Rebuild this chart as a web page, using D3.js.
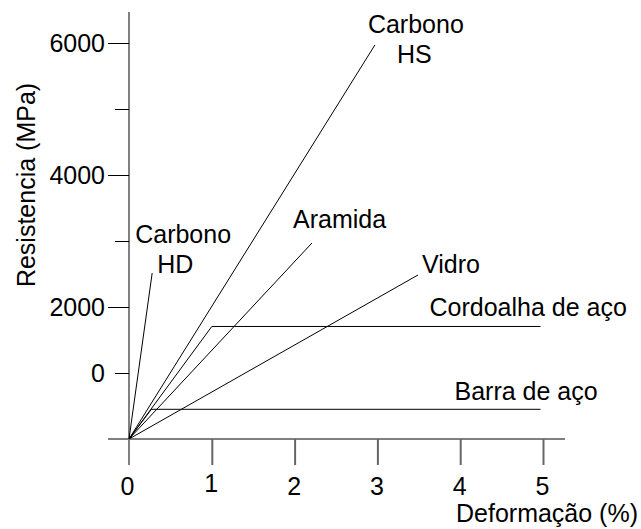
<!DOCTYPE html>
<html>
<head>
<meta charset="utf-8">
<script src="https://cdn.jsdelivr.net/npm/d3@7/dist/d3.min.js"></script>
<style>
  html, body { margin: 0; padding: 0; background: #fff; }
  svg text { font-family: "Liberation Sans", Arial, sans-serif; fill: #000; }
</style>
</head>
<body>
<svg id="chart" width="641" height="529"></svg>
<script>
// ---- data ----
const seriesNames = ["Carbono HD", "Carbono HS", "Aramida", "Vidro", "Cordoalha de aço", "Barra de aço"];
const carbonoHD = [[0, 0], [0.28, 2515]];
const carbonoHS = [[0, 0], [2.97, 5970]];
const aramida   = [[0, 0], [2.21, 2970]];
const vidro     = [[0, 0], [3.49, 2485]];
const cordoalha = [[0, 0], [1.0, 1705], [4.97, 1705]];
const barra     = [[0, 0], [0.27, 450], [4.97, 450]];
const xTickValues = [0, 1, 2, 3, 4, 5];
const xTickLabels = ["0", "1", "2", "3", "4", "5"];
const yTickValues = [1000, 2000, 3000, 4000, 5000, 6000];
const yTickLabels = ["0", "2000", "", "4000", "", "6000"];
const xTitle = "Deformação (%)";
const yTitle = "Resistencia (MPa)";

// ---- layout ----
const svg = d3.select("#chart");
const x = d3.scaleLinear().domain([0, 5]).range([129, 543]);
const y = d3.scaleLinear().domain([0, 6000]).range([439, 43]);
const FONT = 25;
const FF = "Liberation Sans, Arial, sans-serif";

// axes lines
svg.append("line").attr("x1", x(0)).attr("x2", x(0)).attr("y1", 12).attr("y2", 465)
  .attr("stroke", "#808080").attr("stroke-width", 2);
svg.append("line").attr("x1", 108).attr("x2", 565).attr("y1", y(0)).attr("y2", y(0))
  .attr("stroke", "#808080").attr("stroke-width", 2);

// x axis via d3
const xAxis = d3.axisBottom(x).tickValues(xTickValues)
  .tickFormat((d, i) => xTickLabels[i]).tickSize(26).tickPadding(12);
const gx = svg.append("g").attr("transform", `translate(0,${y(0)})`).call(xAxis);
gx.select(".domain").remove();
gx.selectAll(".tick line").attr("stroke", "#666").attr("stroke-width", 2);
gx.selectAll(".tick text").attr("font-size", FONT).attr("font-family", FF)
  .attr("dx", (d, i) => i === 0 ? -2 : -1)
  .attr("dy", (d, i) => i === 1 ? "0.58em" : "0.71em");
gx.selectAll(".tick").filter(d => d === 0).select("line").remove();
svg.append("line").attr("x1", x(0)).attr("x2", x(0)).attr("y1", y(0)).attr("y2", 465)
  .attr("stroke", "#808080").attr("stroke-width", 2);

// y axis via d3
const yAxis = d3.axisLeft(y).tickValues(yTickValues)
  .tickFormat((d, i) => yTickLabels[i]).tickSize(0).tickPadding(24);
const gy = svg.append("g").attr("transform", `translate(${x(0)},0)`).call(yAxis);
gy.select(".domain").remove();
gy.selectAll(".tick text").attr("font-size", FONT).attr("font-family", FF);
gy.selectAll(".tick").append("line")
  .attr("x1", (d, i) => (i % 2 === 0) ? -14 : -21)
  .attr("x2", 0).attr("stroke", "#000").attr("stroke-width", 1);

// axis titles
svg.append("text").attr("x", 638).attr("y", 522).attr("text-anchor", "end")
  .attr("font-size", FONT).text(xTitle);
svg.append("text").attr("transform", "translate(35,185) rotate(-90)").attr("text-anchor", "middle")
  .attr("font-size", FONT).text(yTitle);

// curves
const allSeries = [carbonoHD, carbonoHS, aramida, vidro, cordoalha, barra];
const line = d3.line().x(d => x(d[0])).y(d => y(d[1]));
svg.append("g").selectAll("path").data(allSeries).join("path")
  .attr("d", line).attr("fill", "none").attr("stroke", "#000").attr("stroke-width", 1);

// labels, anchored to each curve's end point
const labelLayout = [
  { lines: [["Carbono", -17, -30], ["HD", 5, 0]] },
  { lines: [["Carbono", -7, -12], ["HS", 22, 18]] },
  { lines: [["Aramida", -19, -15]] },
  { lines: [["Vidro", 4, -2]] },
  { lines: [["Cordoalha de aço", -111, -10]] },
  { lines: [["Barra de aço", -86, -9]] }
];
allSeries.forEach((s, i) => {
  const end = s[s.length - 1];
  const ex = x(end[0]), ey = y(end[1]);
  labelLayout[i].lines.forEach(([t, dx, dy]) => {
    svg.append("text").attr("x", ex + dx).attr("y", ey + dy)
      .attr("font-size", FONT).text(t);
  });
});
</script>
</body>
</html>
